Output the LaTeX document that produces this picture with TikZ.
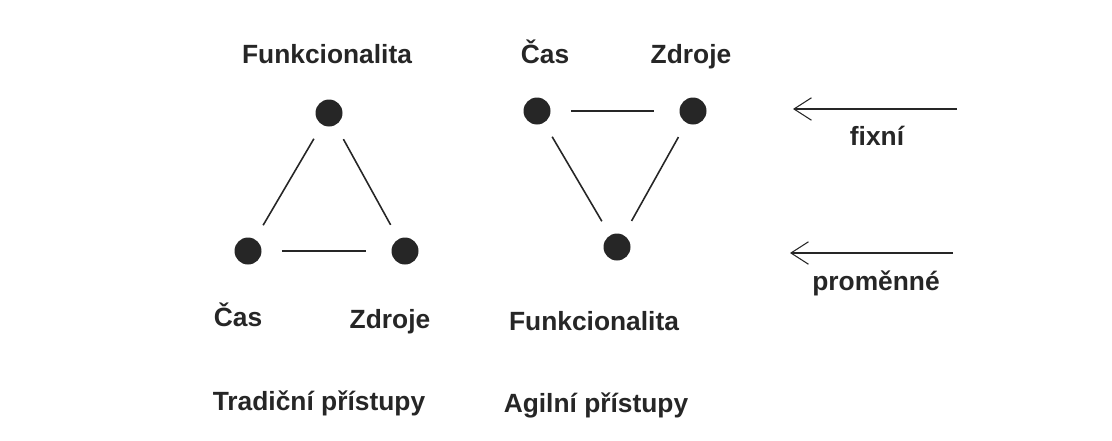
\documentclass[tikz,border=0pt]{standalone}
\usepackage{fontspec}
\setmainfont{Liberation Sans}
\usetikzlibrary{arrows.meta}
\definecolor{ink}{HTML}{262626}
\tikzset{
  dot/.style={shape=circle, fill=ink, inner sep=0pt, minimum size=0.54cm},
  lbl/.style={anchor=base, text=ink, font=\fontsize{15}{18}\selectfont\bfseries},
  side/.style={draw=ink, line width=0.9pt, shorten <=0.32cm, shorten >=0.32cm},
  flat/.style={side, shorten <=0.4cm, shorten >=0.5cm},
  hint/.style={draw=ink, line width=0.9pt, -{Straight Barb[length=3.5mm, width=4.5mm, line width=0.6pt]}}
}
\begin{document}
\begin{tikzpicture}[x=0.02cm, y=-0.02cm]
  \useasboundingbox (0,0) rectangle (1112,440);

  % traditional
  \node[dot] (tf) at (329, 113){};
  \node[dot] (tc) at (248, 251){};
  \node[dot] (tz) at (405, 251){};
  \node[lbl] (ltf) at (327, 63){Funkcionalita};
  \node[lbl] (ltc) at (238, 326){Čas};
  \node[lbl] (ltz) at (390, 328){Zdroje};
  \node[lbl] (lt) at (319, 410){Tradiční přístupy};

  \draw[side] (tf) to (tc);
  \draw[side] (tf) to (tz);
  \draw[flat] (tc) to (tz);

  % agile
  \node[dot] (ac) at (537, 111){};
  \node[dot] (az) at (693, 111){};
  \node[dot] (af) at (617, 247){};
  \node[lbl] (lac) at (545, 63){Čas};
  \node[lbl] (laz) at (691, 63){Zdroje};
  \node[lbl] (laf) at (594, 330){Funkcionalita};
  \node[lbl] (la) at (596, 412){Agilní přístupy};

  \draw[flat] (ac) to (az);
  \draw[side] (ac) to (af);
  \draw[side] (az) to (af);

  % arrows
  \coordinate (fs) at (957, 109);
  \coordinate (fe) at (793, 109);
  \coordinate (ps) at (953, 253);
  \coordinate (pe) at (790, 253);
  \draw[hint] (fs) to (fe);
  \draw[hint] (ps) to (pe);
  \node[lbl] (lf) at (877, 145){fixní};
  \node[lbl] (lp) at (876, 290){proměnné};
\end{tikzpicture}
\end{document}
